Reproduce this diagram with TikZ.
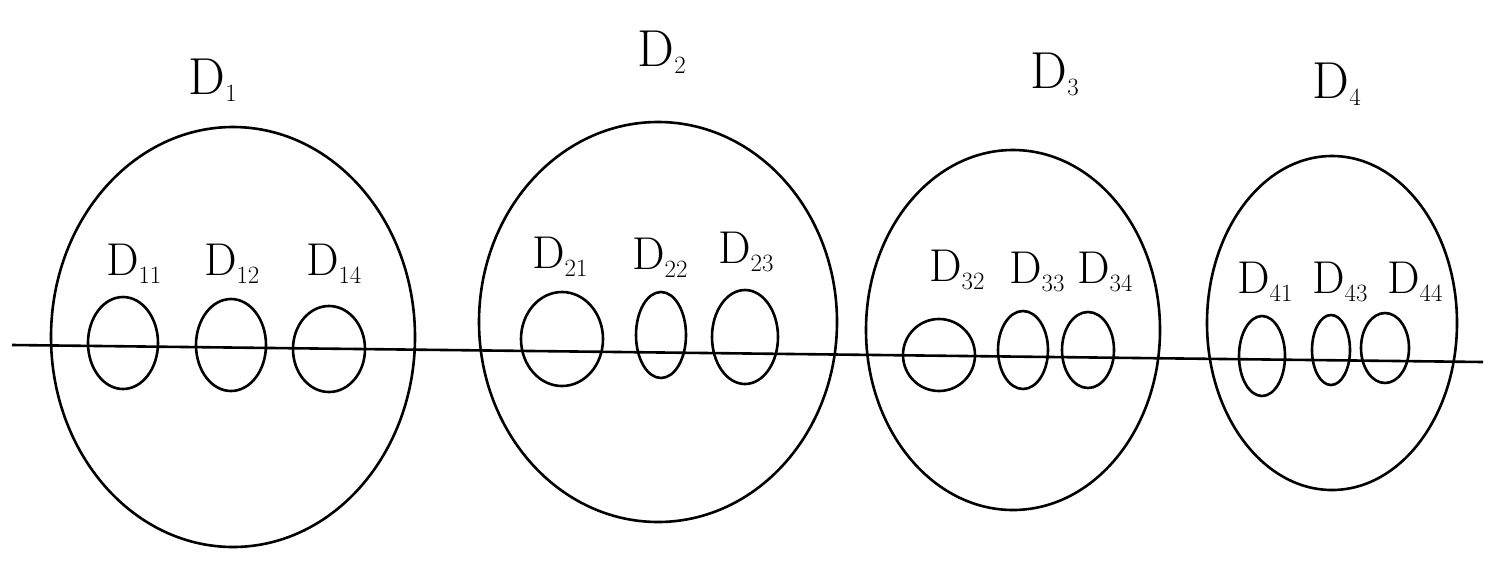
\documentclass[tikz,border=0pt]{standalone}
\usetikzlibrary{shapes.geometric}
\begin{document}
\begin{tikzpicture}[x=1pt,y=-1pt,
  ov/.style={draw,ellipse,line width=2.6pt,inner sep=0pt},
  toplab/.style={font=\fontsize{52}{58}\selectfont},
  sublab/.style={font=\fontsize{46}{52}\selectfont,inner sep=0pt}]
\useasboundingbox[fill=white] (0,0) rectangle (1494,560);
% big regions
\node[ov,minimum width=364,minimum height=420] (D1) at (233,337) {};
\node[ov,minimum width=358,minimum height=400] (D2) at (658,322) {};
\node[ov,minimum width=294,minimum height=360] (D3) at (1013,330) {};
\node[ov,minimum width=250,minimum height=334] (D4) at (1332,323) {};
% line
\coordinate (L) at (12,345);
\coordinate (R) at (1483,362);
\draw[line width=2.6pt] (L) -- (R);
% small ellipses
\node[ov,minimum width=70,minimum height=92] (e11) at (123,343) {};
\node[ov,minimum width=70,minimum height=92] (e12) at (231,345) {};
\node[ov,minimum width=72,minimum height=86] (e14) at (329,349) {};
\node[ov,minimum width=82,minimum height=94] (e21) at (562,339) {};
\node[ov,minimum width=50,minimum height=86] (e22) at (661,335) {};
\node[ov,minimum width=66,minimum height=94] (e23) at (745,337) {};
\node[ov,minimum width=72,minimum height=72] (e32) at (939,355) {};
\node[ov,minimum width=50,minimum height=78] (e33) at (1023,350) {};
\node[ov,minimum width=52,minimum height=76] (e34) at (1088,350) {};
\node[ov,minimum width=46,minimum height=80] (e41) at (1262,356) {};
\node[ov,minimum width=38,minimum height=70] (e43) at (1331,350) {};
\node[ov,minimum width=48,minimum height=70] (e44) at (1385,348) {};
% top labels
\node[toplab] (t1) at (213,80) {D$_1$};
\node[toplab] (t2) at (662,52) {D$_2$};
\node[toplab] (t3) at (1055,74) {D$_3$};
\node[toplab] (t4) at (1337,84) {D$_4$};
% inner labels
\node[sublab] (l11) at (134,264) {D$_{11}$};
\node[sublab] (l12) at (232,264) {D$_{12}$};
\node[sublab] (l14) at (334,264) {D$_{14}$};
\node[sublab] (l21) at (560,257) {D$_{21}$};
\node[sublab] (l22) at (660,258) {D$_{22}$};
\node[sublab] (l23) at (746,252) {D$_{23}$};
\node[sublab] (l32) at (957,270) {D$_{32}$};
\node[sublab] (l33) at (1037,272) {D$_{33}$};
\node[sublab] (l34) at (1105,272) {D$_{34}$};
\node[sublab] (l41) at (1265,282) {D$_{41}$};
\node[sublab] (l43) at (1340,282) {D$_{43}$};
\node[sublab] (l44) at (1415,282) {D$_{44}$};
\end{tikzpicture}
\end{document}
